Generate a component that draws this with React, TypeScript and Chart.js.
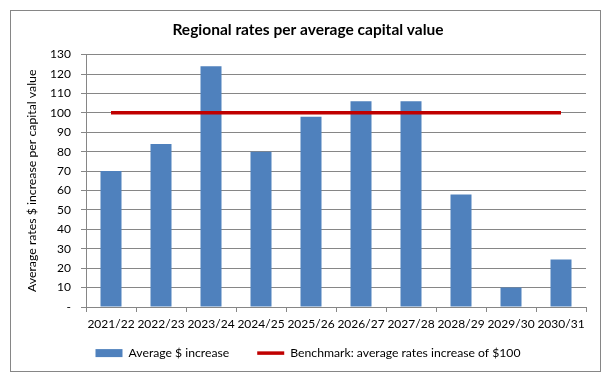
import React, { useEffect, useRef } from "react";
import { Chart, registerables } from "chart.js";

Chart.register(...registerables);

const categories = [
  "2021/22",
  "2022/23",
  "2023/24",
  "2024/25",
  "2025/26",
  "2026/27",
  "2027/28",
  "2028/29",
  "2029/30",
  "2030/31",
];
const averageIncrease = [70, 84, 124, 80, 98, 106, 106, 58, 10, 24.5];
const benchmark = [100, 100, 100, 100, 100, 100, 100, 100, 100, 100];
const yMin = 0;
const yMax = 130;
const yStep = 10;

const chartTitle = "Regional rates per average capital value";
const yTitle = "Average rates $ increase per capital value";
const barLabel = "Average $ increase";
const lineLabel = "Benchmark: average rates increase of $100";

const BLUE = "#4F81BD";
const RED = "#C00000";
const GRID = "#868686";
const FONT = "Lato, 'Noto Sans', sans-serif";

// extends the legend box upwards so its items sit closer to the axis labels
const legendShift = {
  id: "legendShift",
  afterLayout(chart: any) {
    const lg = chart.legend;
    if (lg) {
      lg.top -= 18;
      lg.height += 18;
    }
  },
};

export default function App() {
  const canvasRef = useRef<HTMLCanvasElement | null>(null);

  useEffect(() => {
    const canvas = canvasRef.current;
    if (!canvas) return;
    Chart.defaults.font.family = FONT;
    Chart.defaults.color = "#000";
    const chart = new Chart(canvas, {
      type: "bar",
      data: {
        labels: categories,
        datasets: [
          {
            type: "bar",
            label: barLabel,
            data: averageIncrease,
            backgroundColor: BLUE,
            borderWidth: 0,
            barPercentage: 0.42,
            categoryPercentage: 1,
            order: 1,
          },
          {
            type: "line",
            label: lineLabel,
            data: benchmark,
            borderColor: RED,
            backgroundColor: RED,
            borderWidth: 3.5,
            pointRadius: 0,
            fill: false,
            tension: 0,
            order: 0,
          } as any,
        ],
      },
      plugins: [legendShift],
      options: {
        responsive: false,
        animation: false,
        layout: { padding: { left: 30, right: 25, top: 10, bottom: 10 } },
        plugins: {
          title: {
            display: true,
            text: chartTitle,
            font: { size: 15.5, weight: "bold", family: FONT },
            color: "#000",
            padding: { top: 11, bottom: 15 },
          },
          tooltip: { enabled: false },
          legend: {
            display: true,
            position: "bottom",
            maxHeight: 32,
            labels: {
              font: { size: 12.2, family: FONT },
              color: "#000",
              usePointStyle: true,
              pointStyleWidth: 27,
              boxHeight: 8,
              padding: 28,
              generateLabels: () => [
                {
                  text: barLabel,
                  fillStyle: BLUE,
                  strokeStyle: BLUE,
                  lineWidth: 0,
                  pointStyle: "rect",
                  datasetIndex: 0,
                  hidden: false,
                },
                {
                  text: lineLabel,
                  fillStyle: RED,
                  strokeStyle: RED,
                  lineWidth: 3.5,
                  pointStyle: "line",
                  datasetIndex: 1,
                  hidden: false,
                },
              ],
            },
          },
        },
        scales: {
          x: {
            offset: true,
            grid: {
              display: true,
              offset: true,
              drawOnChartArea: false,
              drawTicks: true,
              tickLength: 5,
              color: GRID,
            },
            border: { display: true, color: GRID, width: 1 },
            ticks: {
              font: { size: 12, family: FONT },
              color: "#000",
              padding: 5,
              maxRotation: 0,
              autoSkip: false,
            },
            afterFit: (s: any) => {
              s.height = 30;
            },
          },
          y: {
            min: yMin,
            max: yMax,
            grid: {
              color: GRID,
              drawTicks: true,
              tickLength: 5,
            },
            border: { display: true, color: GRID, width: 1 },
            ticks: {
              stepSize: yStep,
              font: { size: 12, family: FONT },
              color: "#000",
              padding: 10,
              callback: (v: any) => (Number(v) === 0 ? "-" : String(v)),
            },
            title: {
              display: true,
              text: yTitle,
              font: { size: 12.3, family: FONT },
              color: "#000",
              padding: { top: -5, bottom: 0 },
            },
            afterFit: (s: any) => {
              s.width = 56;
            },
          },
        },
      },
    });
    return () => chart.destroy();
  }, []);

  return (
    <div style={{ position: "absolute", left: 0, top: 0, width: 611, height: 379, background: "#fff" }}>
      <canvas ref={canvasRef} width={611} height={379} style={{ display: "block", width: 611, height: 379 }} />
      <div
        style={{
          position: "absolute",
          left: 10,
          top: 10,
          width: 589,
          height: 360,
          border: `1px solid ${GRID}`,
          pointerEvents: "none",
        }}
      />
    </div>
  );
}
